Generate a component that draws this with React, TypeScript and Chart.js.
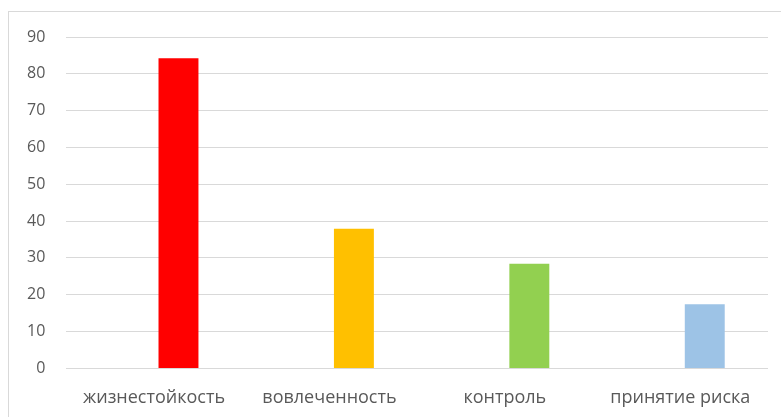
import React, { useEffect, useRef } from "react";
import { Chart, registerables } from "chart.js";

Chart.register(...registerables);

const categories = ["жизнестойкость", "вовлеченность", "контроль", "принятие риска"];
const values = [84.2, 37.9, 28.4, 17.4];
const barColors = ["#FF0000", "#FFC000", "#92D050", "#9DC3E6"];
const emptySeries = [null, null, null, null];
const yTicks = [0, 10, 20, 30, 40, 50, 60, 70, 80, 90];

export default function App() {
  const ref = useRef<HTMLCanvasElement | null>(null);
  useEffect(() => {
    if (!ref.current) return;
    const chart = new Chart(ref.current, {
      type: "bar",
      data: {
        labels: categories,
        datasets: [
          { data: emptySeries as any, backgroundColor: "transparent" },
          { data: values, backgroundColor: barColors },
        ],
      },
      options: {
        animation: false,
        responsive: false,
        maintainAspectRatio: false,
        layout: { padding: { top: 37, right: 13, bottom: -3, left: 6 } },
        plugins: { legend: { display: false }, tooltip: { enabled: false } },
        datasets: { bar: { categoryPercentage: 0.558, barPercentage: 0.816 } } as any,
        scales: {
          x: {
            grid: { display: false },
            border: { display: false },
            ticks: {
              color: "#595959",
              font: { family: "'Open Sans'", size: 18 },
              padding: 11,
              maxRotation: 0,
            },
          },
          y: {
            min: 0,
            max: 90,
            afterBuildTicks: (scale: any) => {
              scale.ticks = yTicks.map((v) => ({ value: v }));
            },
            grid: { color: "#d9d9d9", lineWidth: 1, drawTicks: false },
            border: { display: false },
            ticks: {
              color: "#595959",
              font: { family: "'Open Sans'", size: 16 },
              padding: 21,
            },
          },
        },
      },
    });
    return () => chart.destroy();
  }, []);
  return (
    <div style={{ position: "fixed", left: 0, top: 0, width: 781, height: 417, background: "#fff", overflow: "hidden" }}>
      <div
        style={{
          position: "absolute",
          left: 8,
          top: 11,
          width: 800,
          height: 500,
          border: "1px solid #d9d9d9",
          boxSizing: "border-box",
        }}
      />
      <canvas ref={ref} width={781} height={417} style={{ position: "absolute", left: 0, top: 0 }} />
    </div>
  );
}
